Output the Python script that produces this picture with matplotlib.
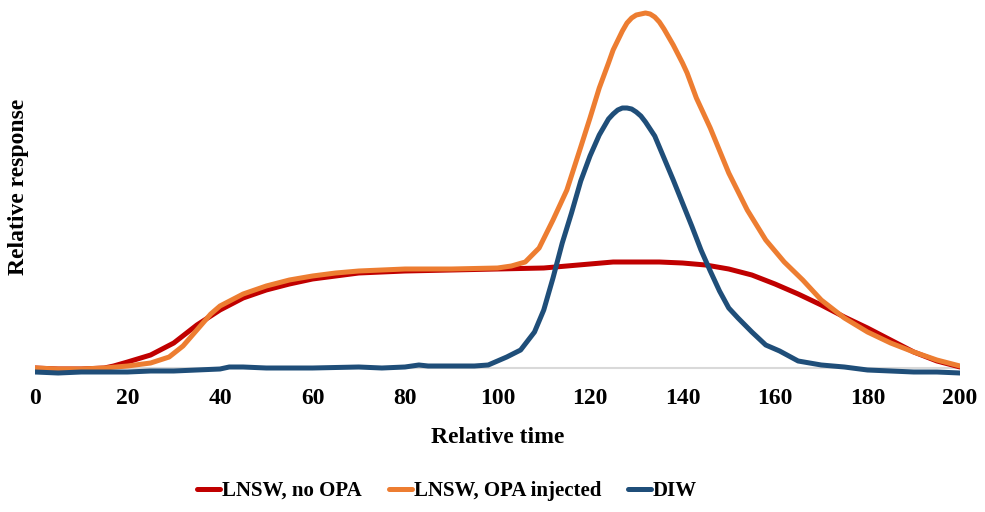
import matplotlib
matplotlib.use("Agg")
import matplotlib.pyplot as plt

# ---- data ----
red_x = [0, 5, 10, 15, 17, 20, 25, 30, 35, 40, 45, 50, 55, 60, 65, 70, 75, 80, 90, 100,
         110, 115, 120, 125, 130, 135, 140, 145, 150, 155, 160, 165, 170, 175, 180, 185,
         190, 195, 200]
red_y = [0, -1, -1, 0, 2, 6, 13, 25, 43, 58, 70, 78, 84, 89, 92, 95, 96, 97, 98, 99,
         100, 102, 104, 106, 106, 106, 105, 103, 99, 93, 84, 74, 63, 51, 40, 28, 16, 7, 1]

orange_x = [0, 5, 10, 15, 20, 25, 29, 32, 35, 38, 40, 45, 50, 55, 60, 65, 70, 80, 90, 100,
            103, 106, 109, 112, 115, 118, 120, 122, 124, 125, 127, 128, 129, 130, 131, 132,
            133, 134, 135, 136, 138, 140, 141, 143, 146, 150, 154, 158, 162, 166, 170, 175,
            180, 185, 190, 195, 200]
orange_y = [0, -1, -1, 0, 2, 5, 11, 22, 38, 54, 62, 74, 82, 88, 92, 95, 97, 99, 99, 100,
            102, 106, 120, 148, 178, 221, 250, 280, 305, 318, 337, 345, 350, 353, 354, 355,
            354, 351, 346, 339, 323, 305, 295, 270, 240, 195, 158, 128, 106, 88, 68, 50,
            36, 25, 16, 8, 2]

blue_x = [0, 5, 10, 15, 20, 25, 30, 35, 40, 42, 45, 50, 60, 70, 75, 80, 83, 85, 90, 95, 98,
          100, 102, 105, 108, 110, 112, 114, 116, 118, 120, 122, 124, 125, 126, 127, 128,
          129, 130, 131, 132, 134, 136, 138, 140, 142, 144, 146, 148, 150, 152, 155, 158,
          161, 165, 170, 175, 180, 185, 190, 195, 200]
blue_y = [-4, -5, -4, -4, -4, -3, -3, -2, -1, 1, 1, 0, 0, 1, 0, 1, 3, 2, 2, 2, 3,
          7, 11, 18, 36, 58, 90, 125, 155, 187, 212, 233, 249, 254, 258, 260, 260,
          259, 256, 252, 246, 232, 210, 188, 165, 142, 118, 97, 77, 60, 50, 36, 23,
          17, 7, 3, 1, -2, -3, -4, -4, -5]

labels = ["LNSW, no OPA", "LNSW, OPA injected", "DIW"]
colors = ["#C00000", "#ED7D31", "#1F4E79"]
xticks = [0, 20, 40, 60, 80, 100, 120, 140, 160, 180, 200]

plt.rcParams['font.family'] = ['Liberation Serif', 'DejaVu Serif']
plt.rcParams['font.weight'] = 'bold'

W, H = 985, 512
fig = plt.figure(figsize=(W / 100, H / 100), dpi=100)
ax = fig.add_axes([35 / W, 1 - 380 / H, (960 - 35) / W, (380 - 10) / H])

ax.axhline(0, color="#D9D9D9", lw=1.5, zorder=1)
for xs, ys, lab, c in zip([red_x, orange_x, blue_x], [red_y, orange_y, blue_y], labels, colors):
    ax.plot(xs, ys, color=c, lw=3.6, label=lab, solid_capstyle='round',
            solid_joinstyle='round', zorder=3)

ax.set_xlim(0, 200)
ax.set_ylim(-12, 358)
ax.set_xticks(xticks)
ax.set_xticklabels([str(t) for t in xticks], fontsize=17, fontweight='bold')
ax.set_yticks([])
ax.tick_params(axis='x', length=0, pad=6)
for s in ax.spines.values():
    s.set_visible(False)

ax.set_xlabel("Relative time", fontsize=17, fontweight='bold', labelpad=13)
ax.set_ylabel("Relative response", fontsize=17, fontweight='bold')
ax.yaxis.set_label_coords((29 - 35) / 925, (380 - 187) / 370)

leg = fig.legend(loc='center', bbox_to_anchor=(447 / W, 1 - 491 / H), ncol=3, frameon=False,
                 fontsize=15, handlelength=1.1, handletextpad=0.1, columnspacing=1.3)
for t in leg.get_texts():
    t.set_fontweight('bold')

fig.savefig("out.png", dpi=100)
